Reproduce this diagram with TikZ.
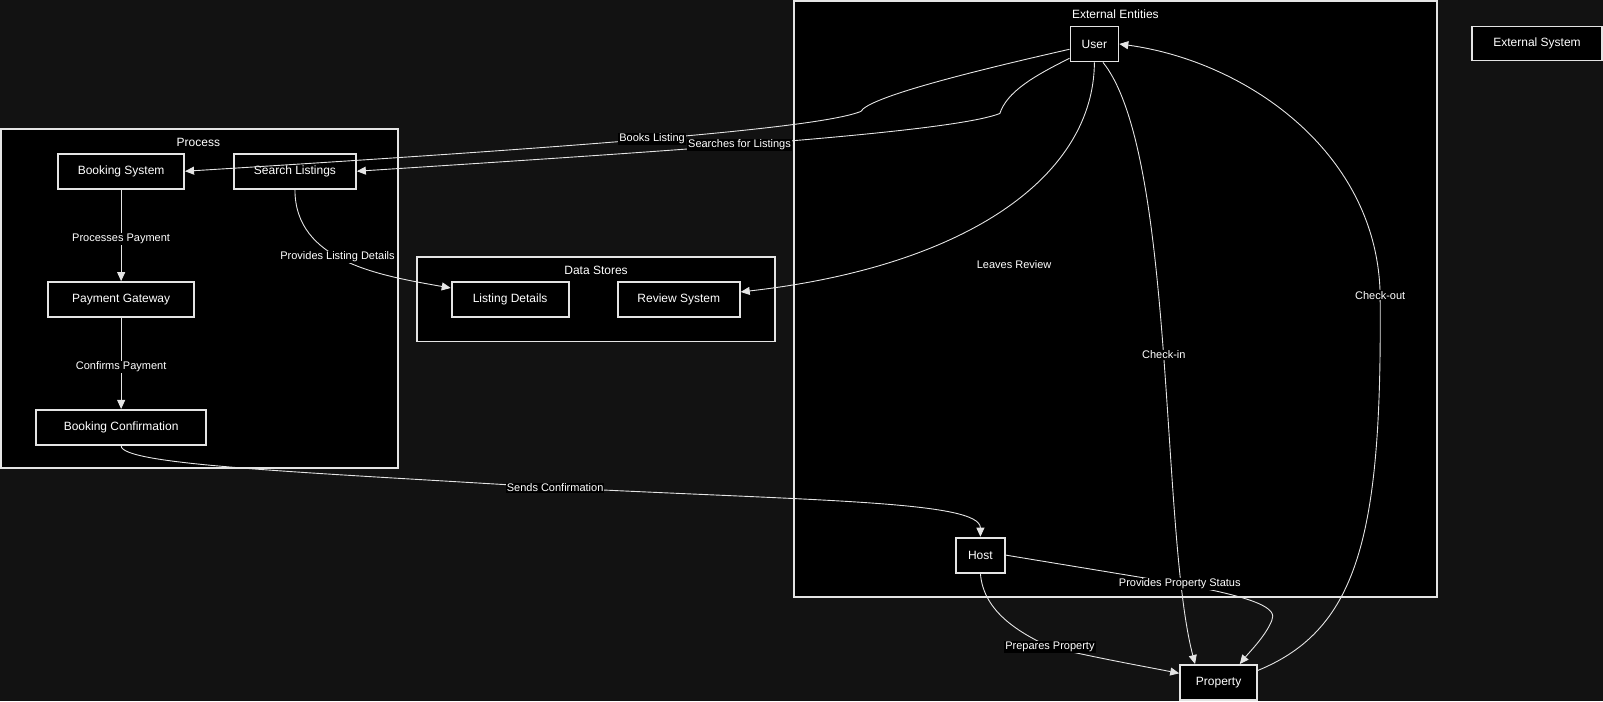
\documentclass[tikz,border=0pt]{standalone}
\usepackage{fontspec}
\setmainfont{Liberation Sans}
\usepackage{tikz}
\usetikzlibrary{arrows.meta}

\definecolor{bggrey}{HTML}{121212}
\definecolor{linegrey}{HTML}{E4E4E4}

\begin{document}
\begin{tikzpicture}[x=1.0223pt, y=-1.0223pt, >={Triangle[length=9pt,width=8pt]},
    box/.style={draw=linegrey, line width=1.8pt, fill=black, text=white, inner sep=0pt,
        font=\fontsize{12}{14}\selectfont},
    grp/.style={draw=linegrey, line width=1.8pt, fill=black},
    grplabel/.style={text=white, font=\fontsize{12}{14}\selectfont},
    flow/.style={->, draw=linegrey, line width=0.9pt},
    lbl/.style={fill=black, text=white, inner sep=1pt, font=\fontsize{11}{13}\selectfont}]
    \fill[bggrey] (0,0) rectangle (1568,685.7);
    % groups
    \draw[grp] (1,126) rectangle (389,458);
    \draw[grp] (408,251) rectangle (758,334);
    \draw[grp] (777,1) rectangle (1406,584);
    \node[grplabel] (procname) at (194,139) {Process};
    \node[grplabel] (storename) at (583,264) {Data Stores};
    \node[grplabel] (extname) at (1091,14) {External Entities};
    % nodes
    \node[box, minimum width=126pt, minimum height=35pt] (booking) at (118.5,167.5) {Booking System};
    \node[box, minimum width=122pt, minimum height=35pt] (search) at (288.5,167.5) {Search Listings};
    \node[box, minimum width=146pt, minimum height=35pt] (payment) at (118.5,293) {Payment Gateway};
    \node[box, minimum width=170pt, minimum height=35pt] (confirm) at (118.5,418) {Booking Confirmation};
    \node[box, minimum width=117pt, minimum height=35pt] (listing) at (499,293) {Listing Details};
    \node[box, minimum width=122pt, minimum height=35pt] (review) at (664,293) {Review System};
    \node[box, minimum width=48pt, minimum height=35pt] (user) at (1070.5,43) {User};
    \node[box, minimum width=49pt, minimum height=35pt] (host) at (959,543) {Host};
    \node[box, minimum width=77pt, minimum height=35pt] (property) at (1192,667.5) {Property};
    \node[box, minimum width=130pt, minimum height=34pt] (extsys) at (1503.5,42.5) {External System};
    % flows
    \draw[flow] (user.192) .. controls (950,70) and (850,95) .. (842,109)
        .. controls (800,126) and (560,144) .. (booking.east) node[lbl, pos=0.5] (lblbooks) {Books Listing};
    \draw[flow] (user.210) .. controls (1010,75) and (985,90) .. (978,111)
        .. controls (930,130) and (650,148) .. (search.east) node[lbl, pos=0.55] (lblsearch) {Searches for Listings};
    \draw[flow] (search.south) to[out=-90, in=170] node[lbl, pos=0.45] (lbldetails) {Provides Listing Details} (listing.169);
    \draw[flow] (booking.south) -- node[lbl, pos=0.54] (lblpay) {Processes Payment} (payment.north);
    \draw[flow] (payment.south) -- node[lbl, pos=0.54] (lblconf) {Confirms Payment} (confirm.north);
    \draw[flow] (user.south) .. controls (1070,170) and (950,260) .. (review.7);
    \node[lbl] (lblreview) at (992,259) {Leaves Review};
    \draw[flow] (user.-65) .. controls (1150,150) and (1135,520) .. (property.142) node[lbl, pos=0.51] (lblcheckin) {Check-in};
    \draw[flow] (property.17) .. controls (1330,615) and (1352,520) .. (1350,289) node[lbl] (lblcheckout) {Check-out}
        .. controls (1348,150) and (1220,60) .. (user.east);
    \draw[flow] (confirm.south) .. controls (118,455) and (300,462) .. (543,477) node[lbl] (lblsend) {Sends Confirmation}
        .. controls (800,490) and (959,490) .. (host.north);
    \draw[flow] (host.east) -- (1154,571) node[lbl] (lblstatus) {Provides Property Status}
        .. controls (1230,585) and (1250,595) .. (1244,607) .. controls (1238,622) and (1222,638) .. (property.41);
    \draw[flow] (host.south) .. controls (962,600) and (1000,620) .. (1027,633) node[lbl] (lblprep) {Prepares Property}
        .. controls (1080,645) and (1120,652) .. (property.167);
\end{tikzpicture}
\end{document}
